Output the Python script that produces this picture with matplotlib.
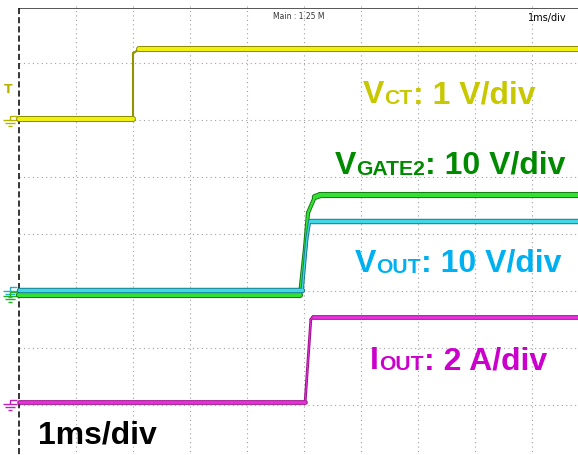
import numpy as np
import matplotlib.pyplot as plt
from matplotlib.collections import LineCollection
from matplotlib.path import Path

# scope traces, time in ms (1 ms/div)
vct_t = [0, 2.0, 2.0, 2.1, 10]
vct_v = [0, 0, 1.15, 1.22, 1.22]                 # V, 1 V/div
vgate_t = [0, 4.93, 5.02, 5.07, 5.19, 5.28, 10]
vgate_v = [0, 0, 8.4, 14.4, 17.2, 17.5, 17.5]    # V, 10 V/div
vout_t = [0, 4.97, 5.05, 5.10, 10]
vout_v = [0, 0, 9.0, 12.1, 12.1]                 # V, 10 V/div
iout_t = [0, 5.02, 5.12, 5.16, 10]
iout_v = [0, 0, 2.9, 3.0, 3.0]                   # A, 2 A/div

# pixel helpers (57 px per division, grid origin at px (19, 462))
PX = 57.0
def X(px):
    return (px - 19) / PX
def Y(py):
    return (462 - py) / PX

fig = plt.figure(figsize=(5.78, 4.55), dpi=100)
ax = fig.add_axes([0, 0, 1, 1])
ax.set_xlim(X(0), X(578))
ax.set_ylim(Y(455), Y(0))
ax.axis("off")

# graticule
for i in range(1, 10):
    ax.plot([i, i], [0, 8], color="#a0a0a0", lw=0.8, ls=(0, (1, 3)), zorder=1)
for j in range(1, 8):
    ax.plot([0, 10], [j, j], color="#a0a0a0", lw=0.8, ls=(0, (1, 3)), zorder=1)
ax.plot([0, 10], [Y(8), Y(8)], color="#555555", lw=0.7, zorder=1)
ax.plot([0, 0], [Y(8), Y(460)], color="black", lw=1.1, ls=(0, (4, 2)), zorder=2)


def trace(t, v, per_div, offset, core, edge, thick, thin):
    x = np.asarray(t, float)
    y = np.asarray(v, float) / per_div + offset
    pts = np.column_stack([x, y])
    segs = np.stack([pts[:-1], pts[1:]], axis=1)
    flat = np.abs(np.diff(y)) <= 0.5 * np.diff(x)
    w = np.where(flat, thick, thin)
    ax.add_collection(LineCollection(segs, colors=edge, linewidths=w + 1.4,
                                     capstyle="round", joinstyle="round", zorder=3))
    ax.add_collection(LineCollection(segs, colors=core, linewidths=w,
                                     capstyle="round", joinstyle="round", zorder=3))


trace(vct_t, vct_v, 1.0, Y(119), "#f0f010", "#8c8c00", 2.9, 0.1)
trace(vgate_t, vgate_v, 10.0, Y(295), "#33e033", "#127a12", 3.0, 1.6)
trace(vout_t, vout_v, 10.0, Y(290), "#40d8e6", "#167c8c", 2.5, 0.9)
trace(iout_t, iout_v, 2.0, Y(402), "#e632dc", "#a0108c", 2.0, 0.6)

# ground / trigger markers on the left
gnd = Path([(-1, 0.5), (1, 0.5), (-0.65, 0), (0.65, 0), (-0.3, -0.5), (0.3, -0.5),
            (0, 0.5), (0, 1.0), (0, 1.0), (1.0, 1.0)],
           [Path.MOVETO, Path.LINETO, Path.MOVETO, Path.LINETO, Path.MOVETO, Path.LINETO,
            Path.MOVETO, Path.LINETO, Path.MOVETO, Path.LINETO])
for py, c in [(123, "#b4b400"), (294, "#22b0c8"), (299, "#22b022"), (407, "#c020b8")]:
    ax.plot([X(10)], [Y(py)], marker=gnd, ms=10, mew=1.0, color=c, ls="none", clip_on=False)
ax.text(X(4), Y(93), "T", color="#b4b400", fontsize=9, fontweight="bold", ha="left", va="baseline")

# header texts
ax.text(X(273), Y(19), "Main : 1.25 M", fontsize=5.5, color="#333333", ha="left", va="baseline")
ax.text(X(528), Y(21), "1ms/div", fontsize=7, color="black", ha="left", va="baseline")

fam = ["Liberation Sans", "DejaVu Sans"]
def label(px, py, main, sub, rest, color, size=23):
    small = size * 0.66
    d = 0.21 * (size - small)
    t1 = ax.text(X(px), Y(py), main, fontsize=size, color=color, fontweight="bold",
                 family=fam, ha="left", va="baseline", zorder=5)
    t2 = ax.annotate(sub, xy=(1, 0), xycoords=t1, xytext=(0, d), textcoords="offset points",
                     fontsize=small, color=color, fontweight="bold", family=fam,
                     ha="left", va="bottom", zorder=5)
    ax.annotate(rest, xy=(1, 0), xycoords=t2, xytext=(0, -d), textcoords="offset points",
                fontsize=size, color=color, fontweight="bold", family=fam,
                ha="left", va="bottom", zorder=5)

label(363, 103, "V", "CT", ": 1 V/div", "#c8c800")
label(335, 174, "V", "GATE2", ": 10 V/div", "#008a00")
label(355, 272, "V", "OUT", ": 10 V/div", "#00b0f0")
label(370, 369, "I", "OUT", ": 2 A/div", "#cc00cc")

ax.text(X(38), Y(444), "1ms/div", fontsize=23, fontweight="bold", family=fam,
        color="black", ha="left", va="baseline")

fig.savefig("out.png", dpi=100, facecolor="white")
